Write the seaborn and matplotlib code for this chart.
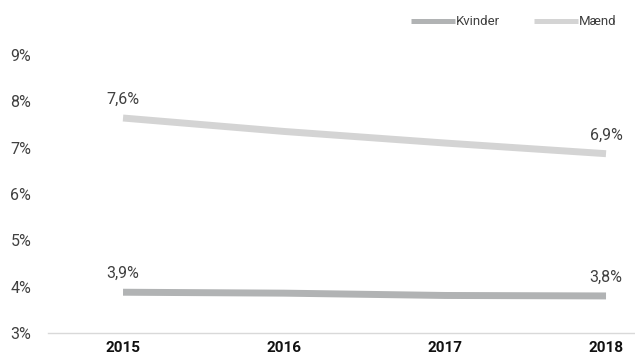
import matplotlib
matplotlib.use("Agg")
import matplotlib.pyplot as plt
import seaborn as sns
import pandas as pd

years = [2015, 2016, 2017, 2018]
kvinder = [3.88, 3.86, 3.81, 3.80]
maend = [7.64, 7.35, 7.10, 6.87]
series_names = ["Kvinder", "Mænd"]
colors = ["#b1b3b4", "#d4d4d4"]

df = pd.DataFrame({
    "year": years * 2,
    "value": kvinder + maend,
    "serie": [series_names[0]] * 4 + [series_names[1]] * 4,
})

sns.set_style("white")
plt.rcParams["font.family"] = ["Roboto", "DejaVu Sans"]

fig = plt.figure(figsize=(6.35, 3.62), dpi=100)
ax = fig.add_axes([48 / 635, 29 / 362, 587 / 635, 278 / 362])

sns.lineplot(data=df, x="year", y="value", hue="serie", palette=colors,
             linewidth=5, ax=ax, legend=False, solid_capstyle="butt")

# labels on first and last point
for vals in [kvinder, maend]:
    for i in [0, 3]:
        txt = f"{vals[i]:.1f}%".replace(".", ",")
        ax.annotate(txt, (years[i], vals[i]), xytext=(0, 8), textcoords="offset points",
                    ha="center", va="bottom", fontsize=11.5, color="#404040")

ax.set_xlim(2015 - 0.466, 2018 + 0.18)
ax.set_ylim(3, 9)
ax.set_xticks(years)
ax.set_xticklabels([str(y) for y in years], fontsize=11, fontweight="bold", color="#111111")
ax.set_yticks(range(3, 10))
ax.set_yticklabels([f"{v}%" for v in range(3, 10)], fontsize=11.5, color="#404040")
ax.tick_params(axis="y", length=0, pad=12)
ax.tick_params(axis="x", length=0, pad=6)
ax.set_xlabel("")
ax.set_ylabel("")
for s in ["top", "right", "left"]:
    ax.spines[s].set_visible(False)
ax.spines["bottom"].set_color("#d9d9d9")
ax.spines["bottom"].set_linewidth(1)

handles = [plt.Line2D([], [], color=c, linewidth=3.6, solid_capstyle="butt") for c in colors]
fig.legend(handles, series_names, loc="upper right", bbox_to_anchor=(0.99, 0.99),
           ncol=2, frameon=False, handlelength=3.3, handletextpad=0.1,
           columnspacing=2.6, labelcolor="#404040", prop={"size": 9.5})

fig.savefig("out.png", dpi=100)
